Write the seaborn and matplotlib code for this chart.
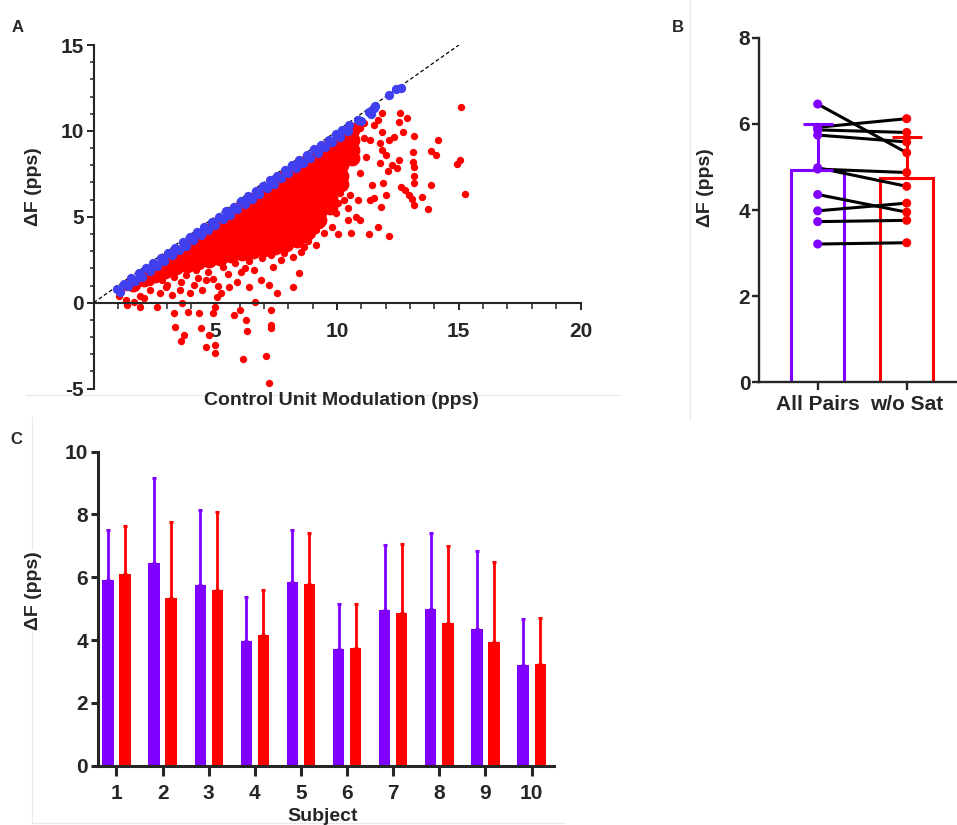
import numpy as np
import pandas as pd
import matplotlib
matplotlib.use("Agg")
import matplotlib.pyplot as plt
import seaborn as sns
from matplotlib.lines import Line2D

PURPLE = "#7f00ff"
RED = "#ff0000"
BLUE = "#4040f0"

# --- A: each motor unit pair, delta F vs control unit modulation
# blue = pairs where the test unit reached saturation
blue_x = [0.95, 1.25, 1.55, 1.85, 2.15, 2.45, 2.75, 3.05, 3.35, 3.65, 3.95, 4.25, 4.55, 4.85, 5.15, 5.45,
          5.75, 6.05, 6.35, 6.65, 6.95, 7.25, 7.55, 7.85, 8.15, 8.45, 8.75, 9.05, 9.35, 9.65, 9.95, 10.2,
          10.5, 10.85, 11.3, 11.5,
          1.1, 1.4, 1.7, 2.0, 2.3, 2.6, 2.9, 3.2, 3.5, 3.8, 4.1, 4.4, 4.7, 5.0, 5.3, 5.6, 5.9, 6.2, 6.5,
          6.8, 7.1, 7.4, 7.7, 8.0, 8.3, 8.6, 8.9, 9.2, 9.5, 9.8, 10.1, 10.45, 11.0, 11.4,
          11.55, 12.15, 12.4, 12.64]
blue_y = [0.8, 1.1, 1.42, 1.72, 2.0, 2.3, 2.62, 2.9, 3.2, 3.52, 3.8, 4.1, 4.42, 4.7, 5.0, 5.32,
          5.6, 5.9, 6.22, 6.5, 6.8, 7.12, 7.4, 7.7, 8.02, 8.3, 8.6, 8.92, 9.2, 9.5, 9.82, 10.05,
          10.35, 10.62, 11.1, 11.35,
          0.62, 0.95, 1.25, 1.52, 1.85, 2.15, 2.42, 2.75, 3.05, 3.32, 3.65, 3.95, 4.22, 4.55, 4.85, 5.12,
          5.45, 5.75, 6.02, 6.35, 6.65, 6.92, 7.25, 7.55, 7.82, 8.15, 8.45, 8.72, 9.05, 9.35, 9.62, 10.0,
          10.6, 11.0,
          11.45, 12.1, 12.43, 12.52]

# dense red core, one column per control modulation value
core_x = [1.6, 2.05, 2.5, 2.95, 3.4, 3.85, 4.3, 4.75, 5.2, 5.65, 6.1, 6.55, 7.0, 7.45, 7.9,
          8.35, 8.8, 9.25, 9.7, 10.15, 10.6]
core_y = [[1.1],
          [1.4],
          [1.6, 1.95],
          [1.85, 2.4],
          [2.05, 2.5, 2.85],
          [2.2, 2.75, 3.3],
          [2.35, 2.9, 3.35, 3.75],
          [2.5, 3.05, 3.6, 4.2],
          [2.6, 3.15, 3.7, 4.2, 4.65],
          [2.75, 3.3, 3.9, 4.5, 5.1],
          [2.9, 3.45, 4.05, 4.6, 5.1, 5.55],
          [3.0, 3.6, 4.2, 4.8, 5.4, 6.0],
          [3.1, 3.7, 4.3, 4.9, 5.45, 5.95, 6.45],
          [3.25, 3.8, 4.4, 5.0, 5.6, 6.25, 6.9],
          [3.4, 4.0, 4.6, 5.25, 5.9, 6.6, 7.35],
          [3.65, 4.2, 4.8, 5.4, 6.0, 6.6, 7.2, 7.8],
          [4.1, 4.6, 5.2, 5.8, 6.4, 7.0, 7.6, 8.25],
          [4.8, 5.3, 5.9, 6.5, 7.1, 7.7, 8.2, 8.7],
          [5.6, 6.1, 6.7, 7.3, 7.9, 8.5, 9.15],
          [6.9, 7.4, 8.0, 8.6, 9.1, 9.6],
          [8.4, 8.9, 9.5, 10.05]]

# scattered red pairs around the core
red_pts = [(15.08, 11.38), (15.04, 8.31), (14.91, 8.06), (15.24, 6.31), (14.13, 9.48), (13.86, 8.85),
           (14.07, 8.6), (13.16, 9.71), (12.88, 10.74), (12.59, 11.03), (12.56, 10.54), (12.72, 9.96),
           (13.13, 8.8), (13.13, 8.21), (13.16, 7.92), (13.16, 7.4), (13.16, 6.99), (13.86, 6.85),
           (12.64, 6.76), (12.8, 6.56), (12.97, 6.27), (13.08, 6.04), (13.16, 5.69), (13.49, 6.17),
           (13.75, 5.44), (12.15, 3.88), (11.67, 4.43), (11.29, 4.0), (10.58, 4.04), (10.04, 4.0),
           (11.88, 6.95), (11.99, 6.27), (11.8, 5.59), (11.5, 6.08), (11.42, 6.85), (11.34, 5.98),
           (11.83, 8.89), (11.99, 8.6), (12.15, 9.48), (12.32, 9.67), (11.83, 9.96), (11.75, 9.28),
           (12.24, 8.02), (12.56, 8.31), (12.48, 7.83), (12.08, 7.69), (11.75, 8.12), (11.67, 10.64),
           (11.83, 11.03), (11.5, 10.35), (11.1, 10.49), (10.93, 10.16), (11.34, 9.48), (11.1, 9.57),
           (11.18, 8.5), (10.93, 7.53), (10.85, 5.98), (10.77, 5.01), (10.93, 4.82), (10.45, 4.82),
           (10.45, 5.5), (10.28, 5.98), (10.53, 6.27), (10.12, 6.37), (10.04, 5.79), (9.96, 5.2),
           (9.8, 4.43), (9.47, 4.04), (9.15, 4.23), (9.15, 3.36), (8.66, 3.26), (8.5, 2.97),
           (8.17, 2.68), (8.42, 1.71), (8.17, 0.89), (7.52, 0.58), (7.2, 1.03), (6.63, 0.06),
           (7.36, 2.1), (7.69, 2.49), (6.87, 1.32), (6.39, 0.93), (5.9, 1.22), (6.06, 1.81),
           (5.57, 0.93), (5.25, 0.54), (5.05, 0.35), (5.0, -0.23), (4.92, -0.62), (5.0, -2.47),
           (5.0, -2.95), (4.63, -2.56), (4.73, -1.88), (4.4, -1.5), (4.31, -0.62), (3.87, -0.52),
           (3.62, -0.04), (3.3, -0.62), (3.33, -1.4), (3.59, -2.21), (3.7, -1.88), (6.14, -3.3),
           (7.07, -3.1), (7.2, -4.66), (7.28, -1.3), (7.28, -1.5), (7.28, -0.43), (6.26, -1.01),
           (6.31, -1.65), (6.03, -0.43), (5.77, -0.72), (2.62, -0.23), (1.92, -0.23), (1.35, -0.14),
           (1.32, 0.16), (1.02, 0.39), (1.32, 0.93), (1.67, 0.93), (1.92, 0.39), (2.32, 0.74),
           (2.73, 0.54), (2.97, 0.93), (3.22, 0.45), (3.54, 0.74), (3.95, 0.54), (4.11, 1.03),
           (4.44, 0.74), (4.6, 1.32), (2.08, 0.25), (1.67, 0.06),
           (2.3, 1.2), (2.8, 1.3), (3.3, 1.5), (3.8, 1.6), (4.2, 1.9), (4.7, 1.8), (5.3, 2.1),
           (5.8, 2.3), (6.4, 2.4), (6.9, 2.6), (7.3, 2.8), (3.0, 1.05), (3.6, 1.2), (4.9, 1.4),
           (5.5, 1.65), (6.6, 1.9), (7.8, 2.9), (8.8, 3.6), (9.3, 4.5), (6.2, 2.0), (5.1, 1.0),
           (4.3, 1.45)]

# --- B/C: per-subject mean delta F (pps) and SD
subjects = list(range(1, 11))
groups = ["All Pairs", "w/o Sat"]
all_pairs = [5.92, 6.46, 5.74, 3.98, 5.86, 3.73, 4.95, 4.98, 4.36, 3.21]
wo_sat = [6.12, 5.33, 5.58, 4.16, 5.80, 3.76, 4.87, 4.55, 3.95, 3.24]
all_pairs_sd = [1.58, 2.69, 2.39, 1.39, 1.64, 1.42, 2.08, 2.44, 2.48, 1.47]
wo_sat_sd = [1.50, 2.42, 2.51, 1.44, 1.60, 1.40, 2.18, 2.45, 2.55, 1.45]

sns.set_style("ticks")
plt.rcParams["font.family"] = ["Liberation Sans", "DejaVu Sans"]
plt.rcParams["font.weight"] = "bold"
plt.rcParams["axes.labelweight"] = "bold"
plt.rcParams["axes.unicode_minus"] = False

fig = plt.figure(figsize=(9.57, 8.25), dpi=100)
axA = fig.add_axes([0.0979, 0.529, 0.5087, 0.4164])
axB = fig.add_axes([0.7934, 0.5366, 0.2066, 0.4177])
axC = fig.add_axes([0.1019, 0.0719, 0.4765, 0.3806])

# faint panel frames from the original figure
for xs, ys in [([26, 620], [395, 395]), ([690, 690], [0, 420]),
               ([32, 32], [417, 823]), ([32, 565], [823, 823])]:
    fig.add_artist(Line2D([x / 957 for x in xs], [1 - y / 825 for y in ys],
                          color="#e9e9e9", lw=0.9, zorder=-1))

# ---------------- A
core_df = pd.DataFrame({
    "x": [x for x, col in zip(core_x, core_y) for _ in col],
    "y": [y for col in core_y for y in col],
})
red_df = pd.DataFrame(red_pts, columns=["x", "y"])
blue_df = pd.DataFrame({"x": blue_x, "y": blue_y})

axA.plot([0, 15], [0, 15], color="black", lw=0.9, ls=(0, (3, 2)), zorder=0.5)
sns.scatterplot(data=core_df, x="x", y="y", color=RED, s=130, linewidth=0, ax=axA)
sns.scatterplot(data=red_df, x="x", y="y", color=RED, s=28, linewidth=0, ax=axA)
sns.scatterplot(data=blue_df, x="x", y="y", color=BLUE, s=45, linewidth=0, ax=axA)

axA.set_xlim(0, 20)
axA.set_ylim(-5, 15)
sns.despine(ax=axA)
axA.spines["bottom"].set_position(("data", 0))
for s in ["left", "bottom"]:
    axA.spines[s].set_linewidth(1.5)
axA.set_xticks([5, 10, 15, 20])
axA.set_xticks(range(0, 21), minor=True)
axA.set_yticks([-5, 0, 5, 10, 15])
axA.set_yticks(range(-5, 16), minor=True)
axA.tick_params(axis="x", which="major", length=5, width=1.4, pad=9, labelsize=15)
axA.tick_params(axis="x", which="minor", length=4, width=1.1)
axA.tick_params(axis="y", which="major", length=5, width=1.4, pad=2, labelsize=15)
axA.tick_params(axis="y", which="minor", length=3, width=1.1)
axA.set_xlabel("Control Unit Modulation (pps)", fontsize=14)
axA.xaxis.set_label_coords(0.508, -0.01)
axA.set_ylabel("ΔF (pps)", fontsize=14, va="center")
axA.yaxis.set_label_coords(-0.123, 0.587)

# ---------------- B
df_b = pd.DataFrame({
    "subject": subjects * 2,
    "group": [groups[0]] * 10 + [groups[1]] * 10,
    "pos": [0] * 10 + [1] * 10,
    "value": all_pairs + wo_sat,
})
sns.barplot(data=df_b, x="group", y="value", hue="group", order=groups, hue_order=groups,
            palette=[PURPLE, RED], fill=False, linewidth=2.2, width=0.6, saturation=1,
            errorbar=None, legend=False, ax=axB)
sns.lineplot(data=df_b, x="pos", y="value", units="subject", estimator=None,
             color="black", linewidth=2.2, legend=False, ax=axB, zorder=3)
sns.stripplot(data=df_b, x="group", y="value", hue="group", order=groups, hue_order=groups,
              palette=[PURPLE, RED], jitter=False, size=6.5, linewidth=0, legend=False,
              ax=axB, zorder=4)
stats = df_b.groupby("group")["value"].agg(["mean", "std"]).reindex(groups)
for i, (g, c) in enumerate(zip(groups, [PURPLE, RED])):
    axB.errorbar([i], [stats.loc[g, "mean"]], yerr=[[0], [stats.loc[g, "std"]]], fmt="none",
                 ecolor=c, elinewidth=2.2, capsize=11, capthick=2.2, zorder=5)

axB.set_ylim(0, 8)
axB.set_yticks([0, 2, 4, 6, 8])
axB.set_xticks([0, 1])
axB.set_xticklabels(groups)
axB.set_xlim(-0.656, 1.565)
sns.despine(ax=axB)
for s in ["left", "bottom"]:
    axB.spines[s].set_linewidth(1.7)
axB.tick_params(axis="x", length=6, width=1.7, pad=3, labelsize=15)
axB.tick_params(axis="y", length=5, width=1.7, pad=1.5, labelsize=15)
axB.set_xlabel("")
axB.set_ylabel("ΔF (pps)", fontsize=14, va="center")
axB.yaxis.set_label_coords(-0.272, 0.564)

# ---------------- C
df_c = pd.DataFrame({
    "subject": subjects * 2,
    "group": [groups[0]] * 10 + [groups[1]] * 10,
    "value": all_pairs + wo_sat,
    "sd": all_pairs_sd + wo_sat_sd,
})
sns.barplot(data=df_c, x="subject", y="value", hue="group", hue_order=groups,
            palette=[PURPLE, RED], saturation=1, width=0.74, gap=0.34, linewidth=0,
            errorbar=None, legend=False, ax=axC)
for cont, g, c in zip(axC.containers, groups, [PURPLE, RED]):
    sub = df_c[df_c["group"] == g]
    xs = [b.get_x() + b.get_width() / 2 for b in cont]
    axC.errorbar(xs, sub["value"], yerr=[np.zeros(len(sub)), sub["sd"]], fmt="none",
                 ecolor=c, elinewidth=2.0, capsize=1.6, capthick=2.2)

axC.set_ylim(0, 10)
axC.set_yticks(range(0, 11, 2))
axC.set_xlim(-0.41, 9.475)
sns.despine(ax=axC)
for s in ["left", "bottom"]:
    axC.spines[s].set_linewidth(2.2)
axC.tick_params(axis="x", length=7, width=2.2, pad=6.5, labelsize=15)
axC.tick_params(axis="y", length=5, width=2.2, pad=2, labelsize=15)
axC.set_xlabel("Subject", fontsize=14, va="top")
axC.xaxis.set_label_coords(0.493, -0.135)
axC.set_ylabel("ΔF (pps)", fontsize=14, va="center",
               bbox=dict(facecolor="white", edgecolor="none", pad=1))
axC.yaxis.set_label_coords(-0.14, 0.556)

for lab, x, y in [("A", 18, 28), ("B", 678, 27), ("C", 16, 440)]:
    fig.text(x / 957, 1 - y / 825, lab, fontsize=12, fontweight="bold", ha="center", va="center")

fig.savefig("out.png", dpi=100)
